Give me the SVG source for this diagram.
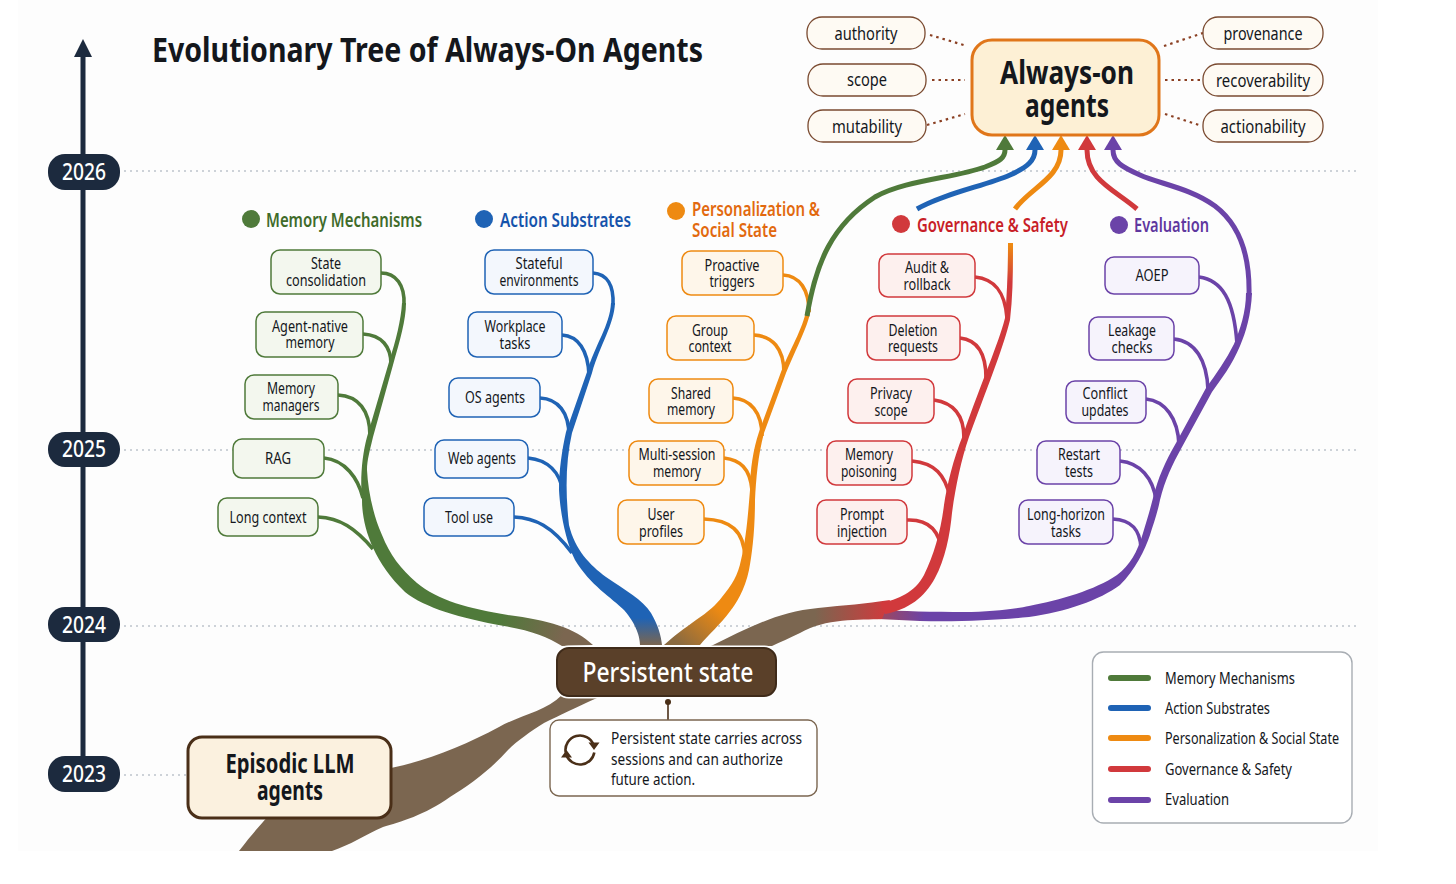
<svg xmlns="http://www.w3.org/2000/svg" width="1456" height="884" viewBox="0 0 1456 884">
  <style>
    text { font-family: "Noto Sans", "Open Sans", "Liberation Sans", sans-serif; fill: #14171c; }
    .n { font-size: 15.5px; text-anchor: middle; }
    .pill { font-size: 18px; text-anchor: middle; }
    .leg { font-size: 16px; }
    .head { font-size: 20px; font-weight: 600; }
    .year { font-size: 23px; font-weight: 500; text-anchor: middle; fill: #ffffff; }
    .big { font-weight: 700; text-anchor: middle; }
    .g rect { fill: #f3f7ee; stroke: #4f7a3a; }
    .b rect { fill: #f3f7fd; stroke: #1f63b5; }
    .o rect { fill: #fef6ea; stroke: #ee8a12; }
    .r rect { fill: #fdf0ee; stroke: #d1393c; }
    .p rect { fill: #f6f3fc; stroke: #6b43a8; }
    .g rect, .b rect, .o rect, .r rect, .p rect { stroke-width: 1.5; }
    .pl rect { fill: #fefaf3; stroke: #7a4a30; stroke-width: 1.3; }
    .grid { stroke: #cdd2d8; stroke-width: 2; stroke-dasharray: 2 4; fill: none; }
    .dots { stroke: #8a3f22; stroke-width: 2.2; stroke-dasharray: 2.5 4; fill: none; }
    .sg, .sb, .so, .sr, .sp { fill: none; stroke-width: 3.6; stroke-linecap: butt; }
    .sg { stroke: #4f7a3a; } .sb { stroke: #1f63b5; } .so { stroke: #ee8a12; } .sr { stroke: #d1393c; } .sp { stroke: #6b43a8; }
    .up { stroke-width: 5; }
    .swatch { stroke-width: 6; stroke-linecap: round; }
  </style>
  <defs>
    <marker id="ag" markerUnits="userSpaceOnUse" markerWidth="15" markerHeight="18" refX="0" refY="9" orient="auto"><path d="M0,0L15,9L0,18Z" fill="#4f7a3a"/></marker>
    <marker id="ab" markerUnits="userSpaceOnUse" markerWidth="15" markerHeight="18" refX="0" refY="9" orient="auto"><path d="M0,0L15,9L0,18Z" fill="#1f63b5"/></marker>
    <marker id="ao" markerUnits="userSpaceOnUse" markerWidth="15" markerHeight="18" refX="0" refY="9" orient="auto"><path d="M0,0L15,9L0,18Z" fill="#ee8a12"/></marker>
    <marker id="ar" markerUnits="userSpaceOnUse" markerWidth="15" markerHeight="18" refX="0" refY="9" orient="auto"><path d="M0,0L15,9L0,18Z" fill="#d1393c"/></marker>
    <marker id="ap" markerUnits="userSpaceOnUse" markerWidth="15" markerHeight="18" refX="0" refY="9" orient="auto"><path d="M0,0L15,9L0,18Z" fill="#6b43a8"/></marker>
    <linearGradient id="trunkG" gradientUnits="userSpaceOnUse" x1="500" y1="618" x2="562" y2="640"><stop offset="0" stop-color="#4f7a3a"/><stop offset="1" stop-color="#7b6650"/></linearGradient>
    <linearGradient id="trunkB" gradientUnits="userSpaceOnUse" x1="650" y1="618" x2="650" y2="645"><stop offset="0" stop-color="#1f63b5"/><stop offset="1" stop-color="#7b6650"/></linearGradient>
    <linearGradient id="trunkO" gradientUnits="userSpaceOnUse" x1="715" y1="605" x2="680" y2="645"><stop offset="0" stop-color="#ee8a12"/><stop offset="1" stop-color="#8a6a40"/></linearGradient>
    <linearGradient id="trunkR" gradientUnits="userSpaceOnUse" x1="815" y1="0" x2="888" y2="0"><stop offset="0" stop-color="#7b6650"/><stop offset="1" stop-color="#d1393c"/></linearGradient>
    <linearGradient id="stemR" gradientUnits="userSpaceOnUse" x1="0" y1="245" x2="0" y2="282"><stop offset="0" stop-color="#ee8a12"/><stop offset="1" stop-color="#d1393c"/></linearGradient>
    <linearGradient id="stemP" gradientUnits="userSpaceOnUse" x1="878" y1="0" x2="925" y2="0"><stop offset="0" stop-color="#a0485a"/><stop offset="1" stop-color="#6b43a8"/></linearGradient>
  </defs>

  <rect width="1456" height="884" fill="#ffffff"/>
  <rect x="18" y="0" width="1360" height="851" fill="#fdfdfd"/>

  <g id="gridlines">
    <path class="grid" d="M124,171H1356M124,450H1356M124,626H1356M124,775H186"/>
  </g>

  <g id="timeline">
    <path d="M83,56V775" stroke="#1c2a3e" stroke-width="5" fill="none"/>
    <path d="M83,39L92,57H74Z" fill="#1c2a3e"/>
    <rect x="48" y="154" width="72" height="36" rx="17" fill="#1c2a3e"/>
    <text class="year" x="84" y="180" textLength="44" lengthAdjust="spacingAndGlyphs">2026</text>
    <rect x="48" y="432" width="72" height="35" rx="17" fill="#1c2a3e"/>
    <text class="year" x="84" y="457" textLength="44" lengthAdjust="spacingAndGlyphs">2025</text>
    <rect x="48" y="607" width="72" height="35" rx="17" fill="#1c2a3e"/>
    <text class="year" x="84" y="633" textLength="44" lengthAdjust="spacingAndGlyphs">2024</text>
    <rect x="48" y="756" width="72" height="36" rx="17" fill="#1c2a3e"/>
    <text class="year" x="84" y="782" textLength="44" lengthAdjust="spacingAndGlyphs">2023</text>
  </g>

  <text id="title" x="152" y="62" font-size="34" font-weight="700" textLength="551" lengthAdjust="spacingAndGlyphs">Evolutionary Tree of Always-On Agents</text>

  <g id="connectors">
    <!-- root trunk and the five limbs leaving the shared state node -->
    <path fill="#7b6650" d="M239,851C255,830 265,820 272,812L391,768C430,760 465,745 499,727C520,715 545,712 562,695L597,698C575,708 560,715 544,723C530,732 518,740 508,750C490,770 470,785 450,797C425,815 400,822 383,827C365,835 350,845 332,851Z"/>
    <path fill="url(#trunkG)" d="M593,645C575,628 548,620 508,615C470,609 437,600 417,583C400,568 390,555 382,535C373,515 368,490 367,470C367,460 370,450 373,437L393,365C400,340 406,320 406,303L402,303C401,320 396,340 389,362L367,437C362,455 360,480 362,500C362,525 372,560 405,592C425,608 460,618 504,626C530,630 548,637 562,646Z"/>
    <path fill="url(#trunkB)" d="M615,303C614,325 600,345 592,373L572,433C566,460 565,490 569,525C575,550 590,565 606,577C625,590 643,600 651,613C658,625 661,635 662,645L640,645C640,638 637,625 624,610C612,598 590,585 575,560C565,540 560,510 559,490C559,470 562,450 566,432L587,372C595,345 610,325 611,303Z"/>
    <path fill="url(#trunkO)" d="M811,305C811,320 800,340 786,373L764,433C758,455 756,480 755,500C755,530 752,555 749,570C745,590 735,605 731,610C720,625 708,635 700,645L664,645C675,635 685,628 696,620C708,612 716,605 722,597C732,585 738,575 741,560C746,540 748,515 750,490C750,470 753,450 759,432L781,372C792,345 805,325 807,305Z"/>
    <path fill="url(#stemP)" d="M1252,293C1251,315 1246,332 1240,346C1232,365 1222,378 1212,392L1182,447C1172,465 1165,480 1160,500C1157,515 1153,525 1150,535C1145,550 1135,570 1120,585C1100,600 1065,612 1029,617C1000,620 960,622 920,621L878,619L878,610C900,611 935,612 964,612C990,612 1015,609 1029,606C1060,600 1095,590 1117,575C1130,565 1137,553 1143,533C1147,520 1150,510 1153,498C1158,478 1165,462 1176,443L1206,388C1216,374 1226,360 1234,344C1240,330 1246,312 1246,293Z"/>
    <path fill="url(#trunkR)" d="M711,646C745,630 775,612 818,608C845,605 865,604 890,600L882,619C860,620 825,618 800,633C790,638 780,642 772,646Z"/>
    <path fill="url(#stemR)" d="M1008,243L1013,243C1013,270 1013,295 1010,320C1004,345 991,378 969,437C961,460 955,490 952,513C950,535 945,560 935,578C925,597 908,610 885,614L880,603C898,600 915,592 924,575C934,555 941,530 944,505C947,485 953,460 963,435C983,378 998,345 1005,318C1007,295 1008,270 1008,243Z"/>

    <!-- leaf branches -->
    <path class="sg" d="M381,273C396,273 405,285 404,305"/>
    <path class="sg" d="M363,334C382,335 391,347 391,364"/>
    <path class="sg" d="M338,395C358,396 370,410 370,436"/>
    <path class="sg" d="M324,458C345,460 358,478 363,498"/>
    <path class="sg" d="M318,517C340,518 355,528 373,549"/>
    <path class="sb" d="M593,273C607,274 614,285 613,305"/>
    <path class="sb" d="M562,335C578,336 588,350 589,375"/>
    <path class="sb" d="M540,398C558,399 569,412 569,436"/>
    <path class="sb" d="M528,458C548,460 560,472 563,492"/>
    <path class="sb" d="M514,517C535,518 552,526 572,553"/>
    <path class="so" d="M783,275C800,276 809,290 809,312"/>
    <path class="so" d="M754,335C772,336 784,348 784,373"/>
    <path class="so" d="M733,398C750,399 762,412 762,436"/>
    <path class="so" d="M724,458C740,460 750,468 752,490"/>
    <path class="so" d="M704,519C730,520 744,530 745,558"/>
    <path class="sr" d="M975,277C995,279 1005,292 1007,318"/>
    <path class="sr" d="M960,338C978,340 986,355 986,378"/>
    <path class="sr" d="M934,400C955,403 964,416 964,438"/>
    <path class="sr" d="M912,461C935,463 945,475 950,497"/>
    <path class="sr" d="M907,520C930,519 940,532 942,553"/>
    <path class="sp" d="M1199,277C1222,280 1234,300 1237,344"/>
    <path class="sp" d="M1174,339C1195,341 1207,360 1208,390"/>
    <path class="sp" d="M1146,399C1165,401 1178,418 1179,445"/>
    <path class="sp" d="M1120,461C1140,463 1153,478 1156,500"/>
    <path class="sp" d="M1113,519C1132,520 1140,530 1141,548"/>

    <!-- long runs into the top node -->
    <path class="sg up" marker-end="url(#ag)" d="M807,316C816,262 832,225 875,197C905,180 955,178 985,167C1000,161 1005,158 1005,150"/>
    <path class="sb up" marker-end="url(#ab)" d="M917,209C945,193 985,186 1010,175C1028,167 1035,160 1035,150"/>
    <path class="so up" marker-end="url(#ao)" d="M1015,209C1030,188 1061,178 1061,150"/>
    <path class="sr up" marker-end="url(#ar)" d="M1137,209C1115,190 1087,180 1087,150"/>
    <path class="sp up" marker-end="url(#ap)" d="M1249,295C1250,255 1240,225 1215,206C1190,188 1160,184 1140,175C1122,167 1113,162 1113,150"/>

    <!-- attribute links around the top node -->
    <path class="dots" d="M930,35L967,46M932,80H965M927,125L965,114M1164,46L1203,33M1165,80H1202M1165,114L1202,126"/>

    <!-- note stem -->
    <circle cx="668" cy="702" r="3" fill="#4a2f18"/>
    <path d="M668,702V720" stroke="#4a2f18" stroke-width="1.6" fill="none"/>
  </g>

  <g id="node-always-on">
    <rect x="972" y="40" width="187" height="95" rx="20" fill="#fdf0d5" stroke="#e0761a" stroke-width="3"/>
    <text class="big" x="1067" y="84" font-size="33" textLength="134" lengthAdjust="spacingAndGlyphs">Always-on</text>
    <text class="big" x="1067" y="117" font-size="33" textLength="84" lengthAdjust="spacingAndGlyphs">agents</text>
  </g>
  <g id="pill-authority" class="pl"><rect x="807" y="17" width="118" height="32" rx="15"/><text class="pill" x="866" y="40" textLength="63" lengthAdjust="spacingAndGlyphs">authority</text></g>
  <g id="pill-scope" class="pl"><rect x="808" y="64" width="118" height="32" rx="15"/><text class="pill" x="867" y="86" textLength="40" lengthAdjust="spacingAndGlyphs">scope</text></g>
  <g id="pill-mutability" class="pl"><rect x="808" y="110" width="118" height="32" rx="15"/><text class="pill" x="867" y="133" textLength="70" lengthAdjust="spacingAndGlyphs">mutability</text></g>
  <g id="pill-provenance" class="pl"><rect x="1203" y="17" width="120" height="32" rx="15"/><text class="pill" x="1263" y="40" textLength="79" lengthAdjust="spacingAndGlyphs">provenance</text></g>
  <g id="pill-recoverability" class="pl"><rect x="1203" y="64" width="120" height="32" rx="15"/><text class="pill" x="1263" y="87" textLength="94" lengthAdjust="spacingAndGlyphs">recoverability</text></g>
  <g id="pill-actionability" class="pl"><rect x="1203" y="110" width="120" height="32" rx="15"/><text class="pill" x="1263" y="133" textLength="85" lengthAdjust="spacingAndGlyphs">actionability</text></g>

  <g id="heading-memory"><circle cx="251" cy="219" r="9" fill="#4f7a3a"/><text class="head" x="266" y="227" style="fill:#3f6b2a" textLength="156" lengthAdjust="spacingAndGlyphs">Memory Mechanisms</text></g>
  <g id="heading-action"><circle cx="484" cy="219" r="9" fill="#1f63b5"/><text class="head" x="500" y="227" style="fill:#1553ab" textLength="131" lengthAdjust="spacingAndGlyphs">Action Substrates</text></g>
  <g id="heading-personalization"><circle cx="676" cy="211" r="9" fill="#ee8a12"/><text class="head" x="692" y="216" style="fill:#e2690f" textLength="128" lengthAdjust="spacingAndGlyphs">Personalization &amp;</text><text class="head" x="692" y="237" style="fill:#e2690f" textLength="85" lengthAdjust="spacingAndGlyphs">Social State</text></g>
  <g id="heading-governance"><circle cx="901" cy="224" r="9" fill="#d1393c"/><text class="head" x="917" y="232" style="fill:#c81e28" textLength="151" lengthAdjust="spacingAndGlyphs">Governance &amp; Safety</text></g>
  <g id="heading-evaluation"><circle cx="1119" cy="225" r="9" fill="#6b43a8"/><text class="head" x="1134" y="232" style="fill:#5f379f" textLength="75" lengthAdjust="spacingAndGlyphs">Evaluation</text></g>

  <g id="node-state-consolidation" class="g"><rect x="271" y="250" width="110" height="44" rx="9"/><text class="n" x="326" y="269" textLength="30" lengthAdjust="spacingAndGlyphs">State</text><text class="n" x="326" y="286" textLength="80" lengthAdjust="spacingAndGlyphs">consolidation</text></g>
  <g id="node-agent-native" class="g"><rect x="256" y="312" width="107" height="45" rx="9"/><text class="n" x="310" y="332" textLength="76" lengthAdjust="spacingAndGlyphs">Agent-native</text><text class="n" x="310" y="348" textLength="49" lengthAdjust="spacingAndGlyphs">memory</text></g>
  <g id="node-memory-managers" class="g"><rect x="245" y="375" width="93" height="44" rx="9"/><text class="n" x="291" y="394" textLength="48" lengthAdjust="spacingAndGlyphs">Memory</text><text class="n" x="291" y="411" textLength="57" lengthAdjust="spacingAndGlyphs">managers</text></g>
  <g id="node-rag" class="g"><rect x="233" y="439" width="91" height="39" rx="9"/><text class="n" x="278" y="464" textLength="26" lengthAdjust="spacingAndGlyphs">RAG</text></g>
  <g id="node-long-context" class="g"><rect x="218" y="498" width="100" height="38" rx="9"/><text class="n" x="268" y="523" textLength="77" lengthAdjust="spacingAndGlyphs">Long context</text></g>

  <g id="node-stateful-env" class="b"><rect x="485" y="250" width="108" height="44" rx="9"/><text class="n" x="539" y="269" textLength="47" lengthAdjust="spacingAndGlyphs">Stateful</text><text class="n" x="539" y="286" textLength="79" lengthAdjust="spacingAndGlyphs">environments</text></g>
  <g id="node-workplace" class="b"><rect x="468" y="312" width="94" height="45" rx="9"/><text class="n" x="515" y="332" textLength="61" lengthAdjust="spacingAndGlyphs">Workplace</text><text class="n" x="515" y="349" textLength="31" lengthAdjust="spacingAndGlyphs">tasks</text></g>
  <g id="node-os-agents" class="b"><rect x="449" y="378" width="91" height="39" rx="9"/><text class="n" x="495" y="403" textLength="60" lengthAdjust="spacingAndGlyphs">OS agents</text></g>
  <g id="node-web-agents" class="b"><rect x="435" y="440" width="93" height="38" rx="9"/><text class="n" x="482" y="464" textLength="68" lengthAdjust="spacingAndGlyphs">Web agents</text></g>
  <g id="node-tool-use" class="b"><rect x="424" y="498" width="90" height="38" rx="9"/><text class="n" x="469" y="523" textLength="48" lengthAdjust="spacingAndGlyphs">Tool use</text></g>

  <g id="node-proactive" class="o"><rect x="682" y="251" width="101" height="44" rx="9"/><text class="n" x="732" y="271" textLength="55" lengthAdjust="spacingAndGlyphs">Proactive</text><text class="n" x="732" y="287" textLength="45" lengthAdjust="spacingAndGlyphs">triggers</text></g>
  <g id="node-group-context" class="o"><rect x="667" y="316" width="87" height="44" rx="9"/><text class="n" x="710" y="336" textLength="36" lengthAdjust="spacingAndGlyphs">Group</text><text class="n" x="710" y="352" textLength="43" lengthAdjust="spacingAndGlyphs">context</text></g>
  <g id="node-shared-memory" class="o"><rect x="649" y="379" width="84" height="44" rx="9"/><text class="n" x="691" y="399" textLength="40" lengthAdjust="spacingAndGlyphs">Shared</text><text class="n" x="691" y="415" textLength="48" lengthAdjust="spacingAndGlyphs">memory</text></g>
  <g id="node-multi-session" class="o"><rect x="629" y="441" width="95" height="44" rx="9"/><text class="n" x="677" y="460" textLength="77" lengthAdjust="spacingAndGlyphs">Multi-session</text><text class="n" x="677" y="477" textLength="48" lengthAdjust="spacingAndGlyphs">memory</text></g>
  <g id="node-user-profiles" class="o"><rect x="618" y="500" width="86" height="44" rx="9"/><text class="n" x="661" y="520" textLength="27" lengthAdjust="spacingAndGlyphs">User</text><text class="n" x="661" y="537" textLength="44" lengthAdjust="spacingAndGlyphs">profiles</text></g>

  <g id="node-audit" class="r"><rect x="879" y="254" width="96" height="43" rx="9"/><text class="n" x="927" y="273" textLength="44" lengthAdjust="spacingAndGlyphs">Audit &amp;</text><text class="n" x="927" y="290" textLength="47" lengthAdjust="spacingAndGlyphs">rollback</text></g>
  <g id="node-deletion" class="r"><rect x="867" y="316" width="93" height="44" rx="9"/><text class="n" x="913" y="336" textLength="49" lengthAdjust="spacingAndGlyphs">Deletion</text><text class="n" x="913" y="352" textLength="50" lengthAdjust="spacingAndGlyphs">requests</text></g>
  <g id="node-privacy" class="r"><rect x="848" y="379" width="86" height="44" rx="9"/><text class="n" x="891" y="399" textLength="42" lengthAdjust="spacingAndGlyphs">Privacy</text><text class="n" x="891" y="416" textLength="33" lengthAdjust="spacingAndGlyphs">scope</text></g>
  <g id="node-poisoning" class="r"><rect x="827" y="441" width="85" height="44" rx="9"/><text class="n" x="869" y="460" textLength="48" lengthAdjust="spacingAndGlyphs">Memory</text><text class="n" x="869" y="477" textLength="56" lengthAdjust="spacingAndGlyphs">poisoning</text></g>
  <g id="node-prompt" class="r"><rect x="817" y="500" width="90" height="44" rx="9"/><text class="n" x="862" y="520" textLength="44" lengthAdjust="spacingAndGlyphs">Prompt</text><text class="n" x="862" y="537" textLength="50" lengthAdjust="spacingAndGlyphs">injection</text></g>

  <g id="node-aoep" class="p"><rect x="1105" y="257" width="94" height="37" rx="9"/><text class="n" x="1152" y="281" textLength="33" lengthAdjust="spacingAndGlyphs">AOEP</text></g>
  <g id="node-leakage" class="p"><rect x="1089" y="317" width="85" height="43" rx="9"/><text class="n" x="1132" y="336" textLength="48" lengthAdjust="spacingAndGlyphs">Leakage</text><text class="n" x="1132" y="353" textLength="41" lengthAdjust="spacingAndGlyphs">checks</text></g>
  <g id="node-conflict" class="p"><rect x="1066" y="381" width="80" height="42" rx="9"/><text class="n" x="1105" y="399" textLength="45" lengthAdjust="spacingAndGlyphs">Conflict</text><text class="n" x="1105" y="416" textLength="47" lengthAdjust="spacingAndGlyphs">updates</text></g>
  <g id="node-restart" class="p"><rect x="1037" y="441" width="83" height="43" rx="9"/><text class="n" x="1079" y="460" textLength="42" lengthAdjust="spacingAndGlyphs">Restart</text><text class="n" x="1079" y="477" textLength="28" lengthAdjust="spacingAndGlyphs">tests</text></g>
  <g id="node-long-horizon" class="p"><rect x="1019" y="500" width="94" height="44" rx="9"/><text class="n" x="1066" y="520" textLength="78" lengthAdjust="spacingAndGlyphs">Long-horizon</text><text class="n" x="1066" y="537" textLength="30" lengthAdjust="spacingAndGlyphs">tasks</text></g>

  <g id="node-persistent-state">
    <rect x="555.500" y="646.500" width="222" height="51" rx="13" fill="none" stroke="#ffffff" stroke-width="2"/>
    <rect x="557" y="648" width="219" height="48" rx="12" fill="#5a4029" stroke="#3f2b1a" stroke-width="2"/>
    <text x="668" y="682" font-size="27" font-weight="500" text-anchor="middle" style="fill:#ffffff" textLength="171" lengthAdjust="spacingAndGlyphs">Persistent state</text>
  </g>

  <g id="note-persistent">
    <rect x="550" y="720" width="267" height="76" rx="9" fill="#ffffff" stroke="#7b6650" stroke-width="1.4"/>
    <!-- cycle icon: two arcs chasing each other -->
    <path d="M565.700,752.500A14.500,14.500 0 0 1 593.600,745M594.300,752.500A14.500,14.500 0 0 1 566.400,755" fill="none" stroke="#4a2f18" stroke-width="2.6"/>
    <path d="M588.500,742.500H599.500L594,750ZM561,757.500H572L566.500,750Z" fill="#4a2f18"/>
    <text x="611" y="744" font-size="16" textLength="191" lengthAdjust="spacingAndGlyphs">Persistent state carries across</text>
    <text x="611" y="765" font-size="16" textLength="172" lengthAdjust="spacingAndGlyphs">sessions and can authorize</text>
    <text x="611" y="785" font-size="16" textLength="84" lengthAdjust="spacingAndGlyphs">future action.</text>
  </g>

  <g id="node-episodic">
    <rect x="188" y="737" width="203" height="81" rx="14" fill="#fbf1df" stroke="#4a2f18" stroke-width="3"/>
    <text class="big" x="290" y="773" font-size="27" textLength="129" lengthAdjust="spacingAndGlyphs">Episodic LLM</text>
    <text class="big" x="290" y="800" font-size="27" textLength="66" lengthAdjust="spacingAndGlyphs">agents</text>
  </g>

  <g id="legend">
    <rect x="1092.500" y="652" width="259.500" height="171" rx="11" fill="#ffffff" stroke="#a8adb3" stroke-width="1.4"/>
    <path class="sg swatch" d="M1111,678H1148"/>
    <text class="leg" x="1165" y="684" textLength="130" lengthAdjust="spacingAndGlyphs">Memory Mechanisms</text>
    <path class="sb swatch" d="M1111,708H1148"/>
    <text class="leg" x="1165" y="714" textLength="105" lengthAdjust="spacingAndGlyphs">Action Substrates</text>
    <path class="so swatch" d="M1111,738H1148"/>
    <text class="leg" x="1165" y="744" textLength="174" lengthAdjust="spacingAndGlyphs">Personalization &amp; Social State</text>
    <path class="sr swatch" d="M1111,769H1148"/>
    <text class="leg" x="1165" y="775" textLength="127" lengthAdjust="spacingAndGlyphs">Governance &amp; Safety</text>
    <path class="sp swatch" d="M1111,800H1148"/>
    <text class="leg" x="1165" y="805" textLength="64" lengthAdjust="spacingAndGlyphs">Evaluation</text>
  </g>
</svg>
